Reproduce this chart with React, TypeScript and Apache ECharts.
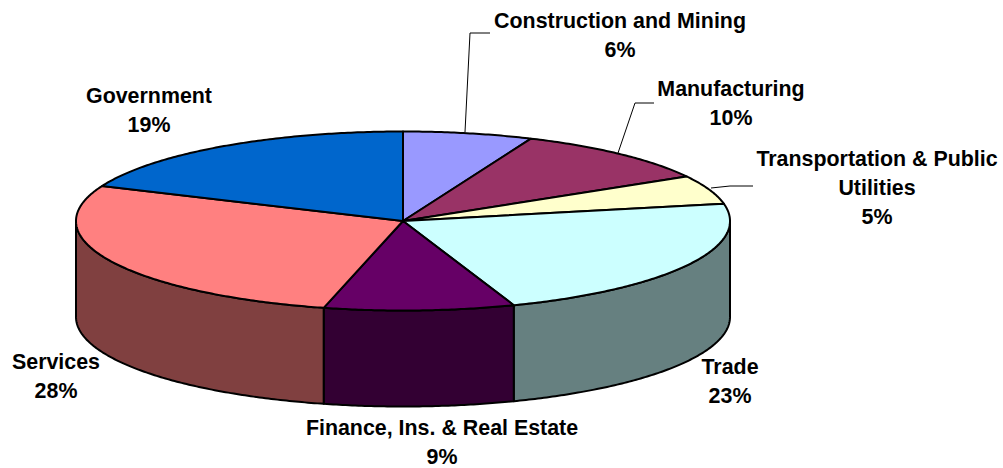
import React, { useEffect, useRef } from "react";
import * as echarts from "echarts";

const categories = ["Construction and Mining", "Manufacturing", "Transportation & Public\nUtilities", "Trade", "Finance, Ins. & Real Estate", "Services", "Government"];
const shares = [6.4, 10.3, 5.2, 22.6, 9.4, 27.5, 18.6];
const topColors = ["#9999FF", "#993366", "#FFFFCC", "#CCFFFF", "#660066", "#FF8080", "#0066CC"];
const wallColors = ["#4D4D80", "#4D1A33", "#808066", "#668080", "#330033", "#804040", "#003366"];
const labelCentres: [number, number][] = [[620, 21], [731, 89], [877, 159], [730, 367], [442, 428], [56, 362], [149, 96]];
const leaders: [number, number][][] = [
  [[465, 132], [470, 33], [490, 33]],
  [[618, 153], [635, 103], [654, 103]],
  [[711, 188], [730, 186], [753, 186]],
];

const CX = 403, CY = 221, RX = 327, RY = 89.5, DEPTH = 96;
const LINE_HEIGHT = 29;
const total = shares.reduce((a, b) => a + b, 0);
const starts: number[] = [];
shares.reduce((acc, v, i) => { starts[i] = acc; return acc + v; }, 0);
const toAngle = (v: number) => (v / total) * Math.PI * 2;
const rim = (a: number, dy = 0): number[] => [CX + RX * Math.sin(a), CY - RY * Math.cos(a) + dy];
const arc = (a0: number, a1: number, dy = 0) => {
  const n = Math.max(2, Math.ceil((a1 - a0) / 0.01));
  const pts: number[][] = [];
  for (let i = 0; i <= n; i++) pts.push(rim(a0 + ((a1 - a0) * i) / n, dy));
  return pts;
};
const stroke = { stroke: "#000", lineWidth: 2, lineJoin: "round" };

export default function App() {
  const ref = useRef<HTMLDivElement>(null);
  useEffect(() => {
    const chart = echarts.init(ref.current!, null, { renderer: "svg" });
    const data = shares.map((v, i) => [i, v]);
    const graphics: any[] = [];
    leaders.forEach((pts) => graphics.push({ type: "polyline", shape: { points: pts }, style: { stroke: "#000", lineWidth: 1, fill: "none" }, z: 5 }));
    categories.forEach((c, i) => {
      graphics.push({
        type: "text", x: labelCentres[i][0], y: labelCentres[i][1] - LINE_HEIGHT / 2, z: 6,
        style: {
          text: `${c}\n${Math.round(shares[i])}%`, fill: "#000", align: "center", verticalAlign: "top",
          font: "bold 21.4px 'Liberation Sans', Arial, sans-serif", lineHeight: LINE_HEIGHT,
        },
      });
    });
    chart.setOption({
      animation: false,
      backgroundColor: "#fff",
      graphic: graphics,
      series: [
        {
          type: "custom", coordinateSystem: "none", data, silent: true, z: 1,
          renderItem: (_p: any, api: any) => {
            const i = api.value(0);
            const a0 = Math.max(toAngle(starts[i]), Math.PI / 2);
            const a1 = Math.min(toAngle(starts[i] + shares[i]), Math.PI * 1.5);
            if (a1 <= a0) return { type: "group", children: [] };
            const points = [...arc(a0, a1), ...arc(a0, a1, DEPTH).reverse()];
            return { type: "polygon", shape: { points }, style: { fill: wallColors[i], ...stroke } };
          },
        },
        {
          type: "custom", coordinateSystem: "none", data, silent: true, z: 2,
          renderItem: (_p: any, api: any) => {
            const i = api.value(0);
            const a0 = toAngle(starts[i]);
            const a1 = toAngle(starts[i] + shares[i]);
            const points = [[CX, CY], ...arc(a0, a1)];
            return { type: "polygon", shape: { points }, style: { fill: topColors[i], ...stroke } };
          },
        },
      ],
    });
    return () => chart.dispose();
  }, []);
  return <div ref={ref} style={{ position: "absolute", left: 0, top: 0, width: 1003, height: 468 }} />;
}
